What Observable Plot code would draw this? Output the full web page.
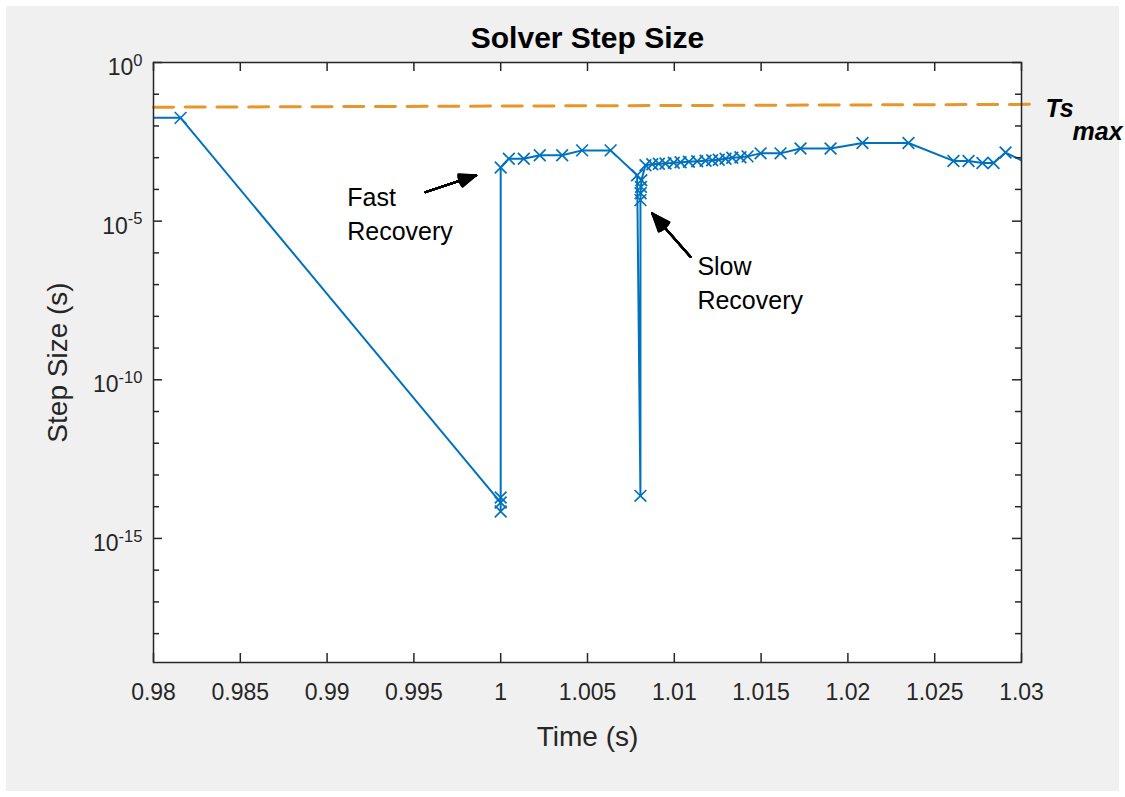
<!DOCTYPE html>
<html>
<head>
<meta charset="utf-8">
<script src="https://cdn.jsdelivr.net/npm/d3@7"></script>
<script src="https://cdn.jsdelivr.net/npm/@observablehq/plot@0.6"></script>
<style>
  html, body { margin: 0; padding: 0; background: #ffffff; }
  #bg { position: absolute; left: 6px; top: 6px; width: 1113px; height: 785px; background: #f0f0f0; }
  #chart { position: absolute; left: 0; top: 0; }
</style>
</head>
<body>
<div id="bg"></div>
<div id="chart"></div>
<script>
// ---- data ----
const timeS = [
  0.9790, 0.98156,
  1.0000, 1.0000, 1.0000, 1.0000,
  1.00047, 1.00133, 1.00225, 1.00354, 1.00469, 1.00633,
  1.00786, 1.00805, 1.00805, 1.00806, 1.00808, 1.00810,
  1.00834, 1.00873, 1.00911, 1.00949, 1.00997, 1.01036, 1.01084, 1.01132,
  1.01180, 1.01218, 1.01256, 1.01295, 1.01334, 1.01381, 1.01422,
  1.01497, 1.01612, 1.01727, 1.01900, 1.02084, 1.02349, 1.02608, 1.02695,
  1.02775, 1.02839, 1.02908, 1.03081
];
const stepSize = [
  1.8e-2, 1.8e-2,
  1.35e-14, 7.1e-15, 1.95e-14, 4.9e-4,
  9.3e-4, 9.3e-4, 1.2e-3, 1.2e-3, 1.7e-3, 1.7e-3,
  2.8e-4, 2.2e-14, 4.6e-5, 7.6e-5, 1.2e-4, 1.95e-4,
  5.8e-4, 6.2e-4, 6.4e-4, 6.6e-4, 6.9e-4, 7.2e-4, 7.4e-4, 7.7e-4,
  8.0e-4, 8.3e-4, 8.6e-4, 9.2e-4, 1.0e-3, 1.03e-3, 1.1e-3,
  1.37e-3, 1.37e-3, 1.94e-3, 1.94e-3, 2.9e-3, 2.9e-3, 7.9e-4, 7.9e-4,
  6.8e-4, 6.8e-4, 1.45e-3, 5.0e-4
];
// Ts max reference line
const tsMaxT = [0.98, 1.0309];
const tsMaxH = [3.9e-2, 4.8e-2];
// axis ticks
const xTicks = [0.98, 0.985, 0.99, 0.995, 1.0, 1.005, 1.01, 1.015, 1.02, 1.025, 1.03];
const yLabelTicks = [1, 1e-5, 1e-10, 1e-15];
const yDecadeTicks = [1e-1,1e-2,1e-3,1e-4,1e-6,1e-7,1e-8,1e-9,1e-11,1e-12,1e-13,1e-14,1e-16,1e-17,1e-18];
// annotations
const annTexts = ["Fast\nRecovery", "Slow\nRecovery"];
const annTextT = [0.99116, 1.01133];
const annTextH = [1.9e-5, 1.25e-7];
const arrowFromT = [0.995668, 1.010933];
const arrowFromH = [8.2e-5, 7.5e-7];
const arrowToT = [0.998589, 1.008727];
const arrowToH = [2.8e-4, 1.75e-5];

// ---- build tables ----
const steps = timeS.map((t, i) => ({t, h: stepSize[i]}));
const tsLine = tsMaxT.map((t, i) => ({t, h: tsMaxH[i]}));
const anns = annTexts.map((text, i) => ({text, t: annTextT[i], h: annTextH[i]}));
const arrows = arrowFromT.map((t, i) => ({x1: t, y1: arrowFromH[i], x2: arrowToT[i], y2: arrowToH[i]}));

const BLUE = "#0072BD";
const AX = "#262626";
const FW = 1125 - 153 - 104; // frame width
const FH = 797 - 62 - 135;   // frame height

const headAngles = d3.range(0, 48, 4);

const chart = Plot.plot({
  width: 1125,
  height: 797,
  marginLeft: 153,
  marginRight: 104,
  marginTop: 62,
  marginBottom: 135,
  style: {background: "transparent", fontFamily: "'Liberation Sans', Arial, Helvetica, sans-serif", fontSize: "23px", color: AX, overflow: "visible"},
  x: {domain: [0.98, 1.03]},
  y: {type: "log", domain: [Math.pow(10, -18.91), 1]},
  marks: [
    Plot.frame({fill: "white"}),
    // Ts max dashed line
    Plot.line(tsLine, {x: "t", y: "h", stroke: "#E8962A", strokeWidth: 3, strokeDasharray: "20,11.7"}),
    // step size line and markers
    Plot.line(steps, {x: "t", y: "h", stroke: BLUE, strokeWidth: 2, clip: true}),
    Plot.dot(steps, {x: "t", y: "h", symbol: "times", r: 5.4, stroke: BLUE, strokeWidth: 1.7, clip: true}),
    // box and inward ticks
    Plot.frame({stroke: AX, strokeWidth: 1.5}),
    Plot.tickX(xTicks, {x: d => d, insetTop: FH - 9, stroke: AX, strokeWidth: 1.5}),
    Plot.tickX(xTicks, {x: d => d, insetBottom: FH - 9, stroke: AX, strokeWidth: 1.5}),
    Plot.tickY(yLabelTicks, {y: d => d, insetRight: FW - 9, stroke: AX, strokeWidth: 1.5}),
    Plot.tickY(yLabelTicks, {y: d => d, insetLeft: FW - 9, stroke: AX, strokeWidth: 1.5}),
    Plot.tickY(yDecadeTicks, {y: d => d, insetRight: FW - 6, stroke: AX, strokeWidth: 1.5}),
    Plot.tickY(yDecadeTicks, {y: d => d, insetLeft: FW - 6, stroke: AX, strokeWidth: 1.5}),
    // axes labels
    Plot.axisX({ticks: xTicks, tickSize: 0, tickPadding: 21, tickFormat: d => d3.format("~g")(+d.toFixed(3)), label: null, fill: AX}),
    Plot.axisY({ticks: yLabelTicks, tickSize: 0, tickPadding: 11, dy: 5, tickFormat: d => "10^" + Math.round(Math.log10(d)), label: null, fill: AX}),
    Plot.text(["Time (s)"], {frameAnchor: "bottom", lineAnchor: "middle", textAnchor: "middle", dy: 75, text: d => d, fontSize: 28, fill: AX}),
    Plot.text(["Step Size (s)"], {frameAnchor: "left", lineAnchor: "middle", textAnchor: "middle", dx: -95, rotate: -90, text: d => d, fontSize: 28, fill: AX}),
    Plot.text(["Solver Step Size"], {frameAnchor: "top", lineAnchor: "middle", textAnchor: "middle", dy: -24, text: d => d, fontWeight: "bold", fontSize: 30, fill: "#000"}),
    // Ts max label
    Plot.text(["Ts"], {x: [tsMaxT[0] + 0.05], y: [tsMaxH[1]], text: d => d, dx: 24, dy: 5, textAnchor: "start", fontWeight: "bold", fontStyle: "italic", fontSize: 25, fill: "#000"}),
    Plot.text(["max"], {x: [tsMaxT[0] + 0.05], y: [tsMaxH[1]], text: d => d, dx: 51, dy: 28, textAnchor: "start", fontWeight: "bold", fontStyle: "italic", fontSize: 25, fill: "#000"}),
    // annotations
    Plot.text(anns, {x: "t", y: "h", text: "text", textAnchor: "start", lineAnchor: "middle", lineHeight: 1.36, fontSize: 25, fill: "#000"}),
    ...headAngles.map(a => Plot.arrow(arrows, {x1: "x1", y1: "y1", x2: "x2", y2: "y2", stroke: "#000", strokeWidth: 2, headLength: 40, headAngle: a}))
  ]
});

// superscript exponents for y tick labels
d3.select(chart).selectAll('[aria-label="y-axis tick label"] text').each(function() {
  const s = this.textContent;
  const parts = s.split("^");
  if (parts.length !== 2) return;
  const t = d3.select(this);
  t.text(parts[0]);
  t.append("tspan").attr("dy", "-0.55em").attr("font-size", "0.72em").text(parts[1]);
});

document.getElementById("chart").appendChild(chart);
</script>
</body>
</html>
